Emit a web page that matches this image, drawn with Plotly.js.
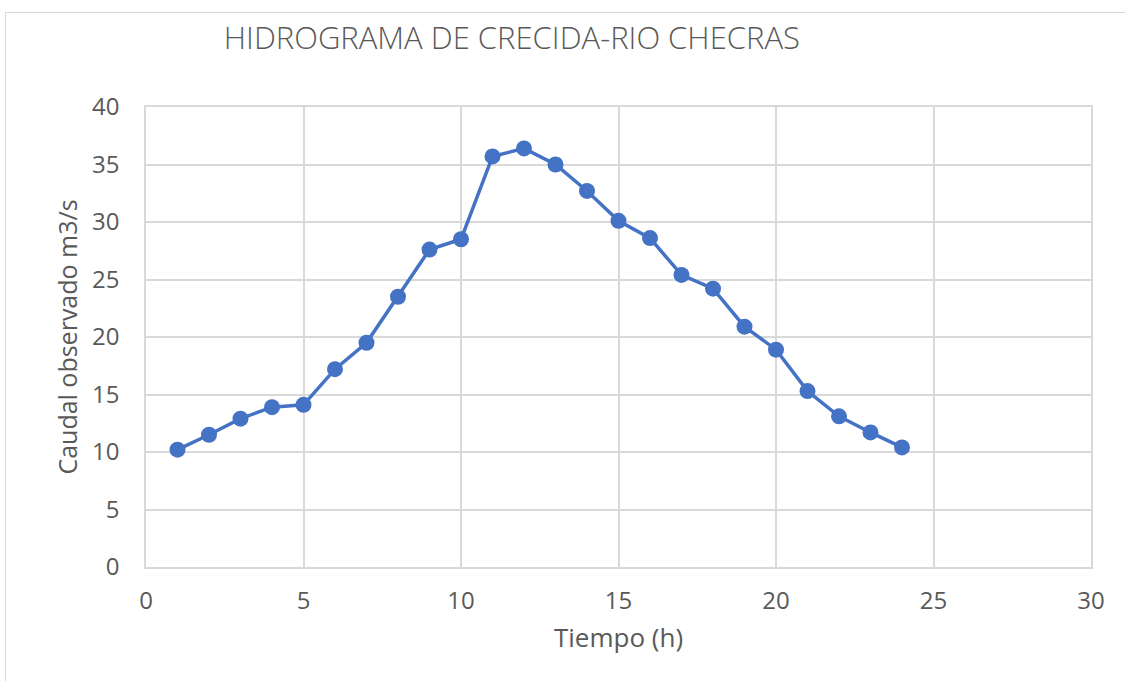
<!DOCTYPE html>
<html>
<head>
<meta charset="utf-8">
<script src="https://cdn.plot.ly/plotly-3.0.1.min.js"></script>
<style>
html,body{margin:0;padding:0;background:#fff;}
#frame{position:absolute;left:5px;top:12px;width:1125px;height:681px;border-left:1.5px solid #d9d9d9;border-top:1.5px solid #d9d9d9;}
#chart{position:absolute;left:0;top:0;width:1125px;height:681px;}
</style>
</head>
<body>
<div id="frame"></div>
<div id="chart"></div>
<script>
const tiempo = [1,2,3,4,5,6,7,8,9,10,11,12,13,14,15,16,17,18,19,20,21,22,23,24];
const caudal = [10.2,11.5,12.9,13.9,14.1,17.2,19.5,23.5,27.6,28.5,35.7,36.4,35.0,32.7,30.1,28.6,25.4,24.2,20.9,18.9,15.3,13.1,11.7,10.4];
const titulo = "HIDROGRAMA DE CRECIDA-RIO CHECRAS";
const tituloX = "Tiempo (h)";
const tituloY = "Caudal observado m3/s";

const fnt = "'Open Sans', sans-serif";
const gray = "#595959";

Plotly.newPlot("chart", [{
  x: tiempo, y: caudal, type: "scatter", mode: "lines+markers",
  line: {color: "#4472C4", width: 3.5},
  marker: {color: "#4472C4", size: 16},
  hoverinfo: "x+y"
}], {
  width: 1125, height: 681,
  paper_bgcolor: "rgba(0,0,0,0)", plot_bgcolor: "rgba(0,0,0,0)",
  margin: {l: 146, r: 34, t: 107, b: 114},
  showlegend: false,
  title: {text: titulo, font: {family: fnt, size: 31, color: gray, weight: 300}, xref: "container", x: 0.455, xanchor: "center", yref: "container", y: 0.944, yanchor: "middle"},
  xaxis: {
    range: [0, 30], dtick: 5, tick0: 0,
    showgrid: true, gridcolor: "#d9d9d9", gridwidth: 1.5,
    zeroline: false, showline: true, linecolor: "#d9d9d9", linewidth: 1.5, mirror: true,
    ticks: "", ticklabelstandoff: 11, tickfont: {family: fnt, size: 24, color: gray},
    title: {text: tituloX, font: {family: fnt, size: 26, color: gray}, standoff: 14}
  },
  yaxis: {
    range: [0, 40], dtick: 5, tick0: 0,
    showgrid: true, gridcolor: "#d9d9d9", gridwidth: 1.5,
    zeroline: false, showline: true, linecolor: "#d9d9d9", linewidth: 1.5, mirror: true,
    ticks: "", ticklabelstandoff: 20, tickfont: {family: fnt, size: 24, color: gray},
    title: {text: tituloY, font: {family: fnt, size: 25, color: gray}, standoff: 7}
  }
}, {displayModeBar: false});
</script>
</body>
</html>
